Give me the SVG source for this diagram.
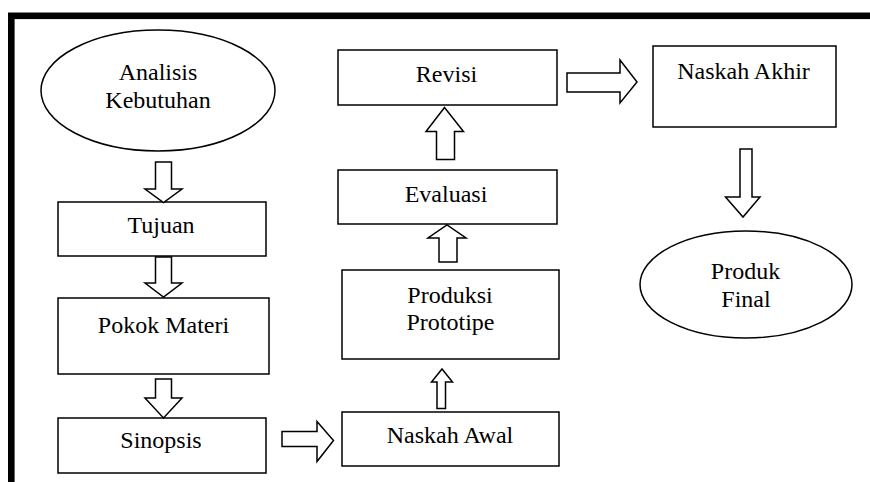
<svg xmlns="http://www.w3.org/2000/svg" width="870" height="482" viewBox="0 0 870 482">
<rect width="870" height="482" fill="#fff"/>
<rect x="11.3" y="15.8" width="900" height="600" fill="none" stroke="#000" stroke-width="6.6"/>
<g fill="#fff" stroke="#000" stroke-width="1.5">
<g id="analisis"><ellipse cx="158" cy="90.5" rx="117" ry="60.5"/></g>
<g id="tujuan"><rect x="58" y="202" width="208" height="54"/></g>
<g id="pokok"><rect x="58" y="298" width="211" height="76"/></g>
<g id="sinopsis"><rect x="58" y="418" width="208" height="55"/></g>
<g id="naskahawal"><rect x="342" y="412" width="217" height="54"/></g>
<g id="produksi"><rect x="342" y="270" width="217" height="89"/></g>
<g id="evaluasi"><rect x="338" y="170" width="219" height="54"/></g>
<g id="revisi"><rect x="338" y="50" width="219" height="55"/></g>
<g id="naskahakhir"><rect x="653" y="46" width="183" height="81"/></g>
<g id="produkfinal"><ellipse cx="746" cy="284.5" rx="106" ry="53.5"/></g>
</g>
<text x="158" y="80" font-family="Times New Roman" font-size="24" text-anchor="middle">Analisis</text>
<text x="158" y="108" font-family="Times New Roman" font-size="24" text-anchor="middle">Kebutuhan</text>
<text x="161" y="233" font-family="Times New Roman" font-size="24" text-anchor="middle">Tujuan</text>
<text x="163.5" y="332.5" font-family="Times New Roman" font-size="24" text-anchor="middle">Pokok Materi</text>
<text x="161" y="448" font-family="Times New Roman" font-size="24" text-anchor="middle">Sinopsis</text>
<text x="450" y="443" font-family="Times New Roman" font-size="24" text-anchor="middle">Naskah Awal</text>
<text x="450" y="303" font-family="Times New Roman" font-size="24" text-anchor="middle">Produksi</text>
<text x="450.5" y="330" font-family="Times New Roman" font-size="24" text-anchor="middle">Prototipe</text>
<text x="446" y="201.5" font-family="Times New Roman" font-size="24" text-anchor="middle">Evaluasi</text>
<text x="446.5" y="81.5" font-family="Times New Roman" font-size="24" text-anchor="middle">Revisi</text>
<text x="743.5" y="79" font-family="Times New Roman" font-size="24" text-anchor="middle">Naskah Akhir</text>
<text x="745.5" y="279" font-family="Times New Roman" font-size="24" text-anchor="middle">Produk</text>
<text x="746" y="306.5" font-family="Times New Roman" font-size="24" text-anchor="middle">Final</text>
<g id="connectors" fill="#fff" stroke="#000" stroke-width="1.5">
<polygon points="155.5,162 171.5,162 171.5,189 182,189 163.5,202.5 145,189 155.5,189"/>
<polygon points="155.5,257 171.5,257 171.5,283 182,283 163.5,297 145,283 155.5,283"/>
<polygon points="155.5,379 171.5,379 171.5,398 182,398 163.5,418 145,398 155.5,398"/>
<polygon points="282,431.5 317,431.5 317,421.5 333.5,440.5 317,461.5 317,446.5 282,446.5"/>
<polygon points="437,408.5 445.5,408.5 445.5,382 452.5,382 442,369 431.5,382 437,382"/>
<polygon points="439,262 457,262 457,238 466,238 447,225 428,238 439,238"/>
<polygon points="436.5,159.5 454.5,159.5 454.5,131.5 463.5,131.5 444.5,107.5 426,131.5 436.5,131.5"/>
<polygon points="567,73 620,73 620,60 637,82 620,103 620,92 567,92"/>
<polygon points="740,149 752,149 752,197 760,197 743,217 725.5,197 740,197"/>
</g>
</svg>
